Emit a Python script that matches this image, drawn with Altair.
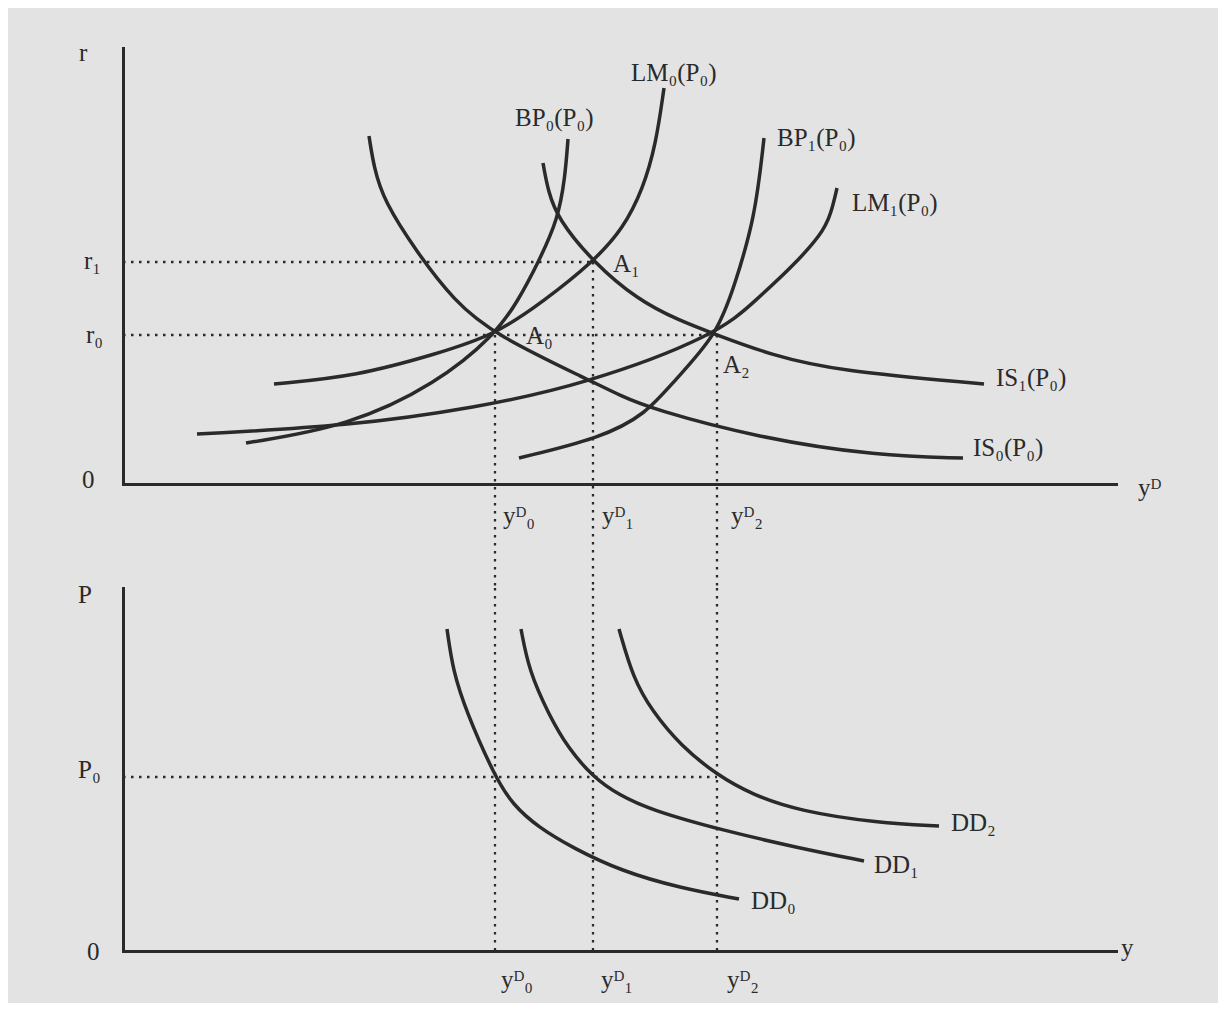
import altair as alt
import pandas as pd

# ---------------- values ----------------
# Top panel: interest rate r against income y^D (plot units: 0..99.3 wide, 0..43.6 tall)
is0_x = [24.6, 25.1, 26.1, 29.3, 33.1, 37.2, 46.8, 49.8, 52.9, 63.6, 75.5, 84.0]
is0_y = [34.8, 31.6, 28.3, 23.3, 18.3, 14.9, 10.3, 8.8, 7.5, 4.6, 2.8, 2.6]
is1_x = [42.0, 42.5, 43.5, 47.0, 51.5, 55.5, 59.4, 64.8, 71.5, 86.1]
is1_y = [32.1, 29.3, 26.5, 22.2, 18.4, 16.4, 14.9, 12.9, 11.3, 10.0]
lm0_x = [15.1, 23.4, 31.3, 37.2, 42.1, 47.0, 50.0, 52.0, 53.3, 54.1]
lm0_y = [10.0, 10.8, 13.0, 14.9, 18.3, 22.2, 25.5, 29.5, 34.0, 39.6]
lm1_x = [7.4, 22.6, 35.2, 46.3, 59.4, 63.2, 66.8, 69.9, 70.8, 71.4]
lm1_y = [5.0, 5.8, 7.6, 10.0, 14.9, 18.3, 21.6, 25.0, 27.0, 29.6]
bp0_x = [12.3, 22.6, 31.3, 37.2, 39.5, 41.6, 43.5, 44.2, 44.5]
bp0_y = [4.1, 5.8, 10.0, 14.9, 18.3, 22.3, 26.5, 30.6, 34.5]
bp1_x = [39.6, 47.8, 52.3, 55.1, 59.4, 61.2, 63.2, 64.1]
bp1_y = [2.6, 4.6, 7.0, 10.3, 14.9, 20.0, 26.6, 34.6]

# equilibrium levels
yd_levels = [37.2, 47.0, 59.4]        # y^D_0, y^D_1, y^D_2
r_levels = [14.9, 22.2]               # r_0, r_1
r_level_ends = [59.4, 47.0]           # where the dotted r lines stop
yd_tops = [14.9, 22.2, 14.9]          # where the dotted y^D lines start (top panel)
gap_bottom = -10.4                    # dotted lines run down to the lower panel

curve_labels = ["BP₀(P₀)", "LM₀(P₀)", "BP₁(P₀)", "LM₁(P₀)", "IS₁(P₀)", "IS₀(P₀)",
                "A₀", "A₁", "A₂"]
curve_label_x = [39.2, 50.8, 65.4, 72.9, 87.3, 85.0, 40.3, 49.0, 60.0]
curve_label_y = [35.8, 40.3, 33.8, 27.3, 9.8, 2.8, 14.0, 21.2, 11.1]

top_axis_labels = ["r", "r₁", "r₀", "0", "yᴰ", "yᴰ₀", "yᴰ₁", "yᴰ₂"]
top_axis_label_x = [-4.4, -3.9, -3.7, -4.1, 101.5, 38.0, 47.9, 60.8]
top_axis_label_y = [42.3, 21.5, 14.1, -0.4, -1.2, -4.0, -4.0, -4.0]

# Bottom panel: price level P against output y (plot units: 0..99.3 wide, 0..36.3 tall)
dd0_x = [32.4, 33.0, 34.3, 37.2, 39.0, 41.5, 45.0, 49.8, 55.7, 61.6]
dd0_y = [32.2, 28.0, 24.0, 17.4, 14.6, 12.4, 10.3, 8.0, 6.3, 5.2]
dd1_x = [39.8, 40.6, 42.6, 44.5, 47.0, 49.6, 52.8, 59.8, 67.6, 74.1]
dd1_y = [32.2, 28.0, 23.6, 20.3, 17.4, 15.6, 14.1, 12.1, 10.3, 9.0]
dd2_x = [49.6, 51.0, 52.9, 55.8, 59.4, 63.0, 67.6, 75.5, 81.6]
dd2_y = [32.2, 27.3, 24.0, 20.5, 17.6, 15.6, 14.0, 12.8, 12.5]

p0_level = 17.4
bottom_top = 36.3

dd_labels = ["DD₂", "DD₁", "DD₀"]
dd_label_x = [82.8, 75.1, 62.8]
dd_label_y = [12.0, 7.8, 4.2]

bottom_axis_labels = ["P", "P₀", "0", "y", "yᴰ₀", "yᴰ₁", "yᴰ₂"]
bottom_axis_label_x = [-4.5, -4.5, -3.6, 99.8, 37.8, 47.8, 60.4]
bottom_axis_label_y = [34.8, 17.3, -0.9, -0.5, -3.7, -3.7, -3.7]

# ---------------- styling ----------------
INK = "#2a2a2a"
BG = "#e3e3e3"
FONT = "Liberation Serif"
FS = 25
AX = alt.Axis(ticks=False, labels=False, grid=False, title=None, domain=True,
              domainColor=INK, domainWidth=3, domainCap="square")
W = 993


def curves_frame(names, xs_list, ys_list):
    frames = []
    for n, xs, ys in zip(names, xs_list, ys_list):
        frames.append(pd.DataFrame({"curve": n, "x": xs, "y": ys, "k": range(len(xs))}))
    return pd.concat(frames, ignore_index=True)


def panel(curves, hdf, vdf, texts, xdom, ydom, height):
    xs = alt.Scale(domain=xdom, nice=False, zero=False)
    ys = alt.Scale(domain=ydom, nice=False, zero=False)
    lines = alt.Chart(curves).mark_line(
        color=INK, strokeWidth=3.5, interpolate="basis"
    ).encode(
        x=alt.X("x:Q", scale=xs, axis=AX),
        y=alt.Y("y:Q", scale=ys, axis=AX),
        detail="curve:N",
        order="k:Q",
    )
    hr = alt.Chart(hdf).mark_rule(color=INK, strokeWidth=2.3, strokeDash=[2.5, 5.5]).encode(
        x=alt.X("x:Q", scale=xs, axis=AX), x2="x2:Q",
        y=alt.Y("y:Q", scale=ys, axis=AX),
    )
    vr = alt.Chart(vdf).mark_rule(color=INK, strokeWidth=2.3, strokeDash=[2.5, 5.5]).encode(
        x=alt.X("x:Q", scale=xs, axis=AX),
        y=alt.Y("y:Q", scale=ys, axis=AX), y2="y2:Q",
    )
    tx = alt.Chart(texts).mark_text(
        align="left", baseline="alphabetic", font=FONT, fontSize=FS, color=INK
    ).encode(
        x=alt.X("x:Q", scale=xs, axis=AX),
        y=alt.Y("y:Q", scale=ys, axis=AX),
        text="label:N",
    )
    return alt.layer(lines, vr, hr, tx).properties(width=W, height=height)


# ---------------- top panel ----------------
top_curves = curves_frame(
    ["IS0", "IS1", "LM0", "LM1", "BP0", "BP1"],
    [is0_x, is1_x, lm0_x, lm1_x, bp0_x, bp1_x],
    [is0_y, is1_y, lm0_y, lm1_y, bp0_y, bp1_y],
)
top_h = pd.DataFrame({"x": [0.0] * len(r_levels), "x2": r_level_ends, "y": r_levels})
top_v = pd.DataFrame({"x": yd_levels, "y": yd_tops, "y2": [gap_bottom] * len(yd_levels)})
top_text = pd.DataFrame({
    "label": curve_labels + top_axis_labels,
    "x": curve_label_x + top_axis_label_x,
    "y": curve_label_y + top_axis_label_y,
})
top = panel(top_curves, top_h, top_v, top_text, [0, 99.3], [0, 43.6], 436)

# ---------------- bottom panel ----------------
bottom_curves = curves_frame(["DD0", "DD1", "DD2"], [dd0_x, dd1_x, dd2_x], [dd0_y, dd1_y, dd2_y])
bot_h = pd.DataFrame({"x": [0.0], "x2": [yd_levels[-1]], "y": [p0_level]})
bot_v = pd.DataFrame({"x": yd_levels, "y": [bottom_top] * 3, "y2": [0.0] * 3})
bot_text = pd.DataFrame({
    "label": dd_labels + bottom_axis_labels,
    "x": dd_label_x + bottom_axis_label_x,
    "y": dd_label_y + bottom_axis_label_y,
})
bottom = panel(bottom_curves, bot_h, bot_v, bot_text, [0, 99.3], [0, 36.3], 363)

chart = alt.vconcat(top, bottom, spacing=104, bounds="flush").properties(
    padding={"left": 69, "top": 33, "right": 56, "bottom": 10},
    background=BG,
).configure_view(stroke=None)

chart.save("out.html", embed_options={"renderer": "svg", "actions": False})
